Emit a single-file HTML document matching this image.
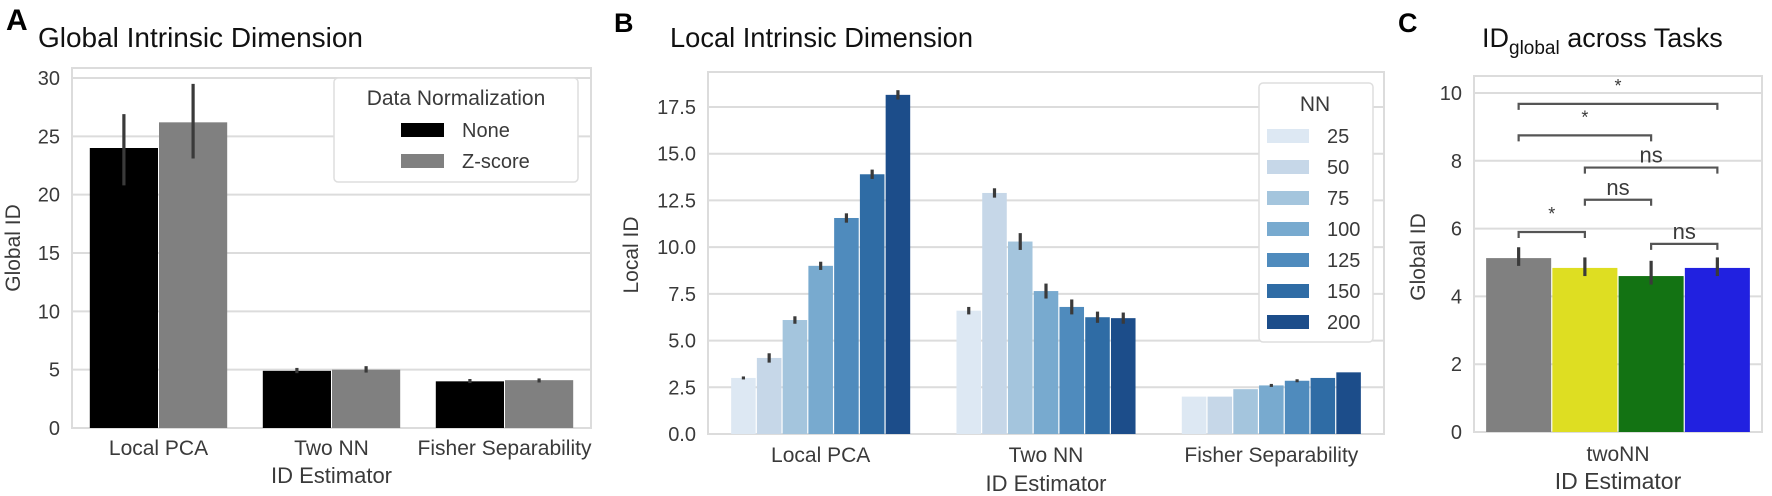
<!DOCTYPE html>
<html><head><meta charset="utf-8"><style>
html,body{margin:0;padding:0;background:#fff;}
svg{display:block;font-family:"Liberation Sans",sans-serif;}
</style></head><body>
<svg id="fig" width="1772" height="496" viewBox="0 0 1772 496">
<text x="6" y="30" font-size="30" font-weight="bold" fill="#000">A</text>
<text x="38" y="47" font-size="28" fill="#111" textLength="325" lengthAdjust="spacingAndGlyphs">Global Intrinsic Dimension</text>
<text x="614" y="32" font-size="27" font-weight="bold" fill="#000">B</text>
<text x="670" y="47" font-size="28" fill="#111" textLength="303" lengthAdjust="spacingAndGlyphs">Local Intrinsic Dimension</text>
<text x="1398" y="32" font-size="27" font-weight="bold" fill="#000">C</text>
<text x="1482" y="47" font-size="27" fill="#111">ID<tspan font-size="19" dy="7">global</tspan><tspan dy="-7"> across Tasks</tspan></text>
</svg>
<script>
// ---- Panel A data ----
const aCategories = ["Local PCA", "Two NN", "Fisher Separability"];
const aSeries = ["None", "Z-score"];
const aNone = [24.0, 4.9, 4.0];
const aZ = [26.2, 5.0, 4.1];
const aNoneLo = [20.8, 4.7, 3.85];
const aNoneHi = [26.9, 5.15, 4.2];
const aZLo = [23.1, 4.75, 3.9];
const aZHi = [29.5, 5.3, 4.25];
const aTicks = [0, 5, 10, 15, 20, 25, 30];
// ---- Panel B data ----
const bCategories = ["Local PCA", "Two NN", "Fisher Separability"];
const bNN = ["25", "50", "75", "100", "125", "150", "200"];
const bLocalPCA = [3.0, 4.07, 6.1, 9.0, 11.56, 13.9, 18.15];
const bTwoNN = [6.6, 12.9, 10.3, 7.65, 6.8, 6.25, 6.2];
const bFisher = [2.0, 2.0, 2.4, 2.6, 2.85, 3.0, 3.3];
const bErr = [[0.08, 0.25, 0.2, 0.22, 0.25, 0.25, 0.25],[0.2, 0.25, 0.45, 0.4, 0.4, 0.3, 0.3],[0, 0, 0, 0.08, 0.08, 0, 0]];
const bTicks = [0, 2.5, 5.0, 7.5, 10.0, 12.5, 15.0, 17.5];
// ---- Panel C data ----
const cTasks = ["Task 1", "Task 2", "Task 3", "Task 4"];
const cValues = [5.13, 4.84, 4.6, 4.84];
const cLo = [4.9, 4.6, 4.35, 4.6];
const cHi = [5.45, 5.15, 5.05, 5.15];
const cTicks = [0, 2, 4, 6, 8, 10];
const cBrFrom = [0, 0, 1, 1, 0, 2];
const cBrTo = [3, 2, 3, 2, 1, 3];
const cBrY = [9.68, 8.75, 7.8, 6.85, 5.9, 5.55];
const cBrLabel = ["*", "*", "ns", "ns", "*", "ns"];

const NS = "http://www.w3.org/2000/svg";
const svg = document.getElementById("fig");
function mk(tag, attrs, parent) {
  const e = document.createElementNS(NS, tag);
  for (const k in attrs) e.setAttribute(k, attrs[k]);
  (parent || svg).appendChild(e);
  return e;
}
function txt(e, s) { e.textContent = s; return e; }

function axes(p) {
  const g = mk("g", {});
  
  
  const f = mk("rect", {x: p.x0, y: p.top, width: p.x1 - p.x0, height: p.bottom - p.top, fill: "#fff", stroke: "#dcdcdc", "stroke-width": 2}, g);
  
  
  p.ticks.forEach((t, i) => {
    const y = p.y(t);
    const gl = mk("line", {x1: p.x0, x2: p.x1, y1: y, y2: y, stroke: "#dcdcdc", "stroke-width": 2}, g);
    
    
    const tl = txt(mk("text", {x: p.x0 - 12, y: y + 7, "font-size": 20, fill: "#3a3a3a", "text-anchor": "end"}, g), p.fmt(t));
    
    
  });
  const yl = txt(mk("text", {transform: `translate(${p.ylx},${p.yly}) rotate(-90)`, "font-size": 21, fill: "#3a3a3a", "text-anchor": "middle"}, g), p.ylabel);
  
  
  return g;
}
function errbar(x, lo, hi, y, name) {
  const l = mk("line", {x1: x, x2: x, y1: y(lo), y2: y(hi), stroke: "#3a3a3a", "stroke-width": 3.2});
  
  
}

// ================= Panel A =================
const A = {name: "panel-a", x0: 72, x1: 591, top: 68, bottom: 428, ticks: aTicks, fmt: t => String(t), ylabel: "Global ID", ylx: 20, yly: 248};
A.y = v => 428 - v * (350 / 30);
axes(A);
const aBand = (A.x1 - A.x0) / aCategories.length;
const aBarW = aBand * 0.4;
const aColors = ["#000000", "#808080"];
aCategories.forEach((c, i) => {
  const cx = A.x0 + aBand * (i + 0.5);
  [aNone, aZ].forEach((ser, s) => {
    const bx = cx - aBarW + s * aBarW;
    const r = mk("rect", {x: bx + 0.5, y: A.y(ser[i]), width: aBarW - 1, height: A.y(0) - A.y(ser[i]), fill: aColors[s]});
    
    
    const lo = s ? aZLo : aNoneLo, hi = s ? aZHi : aNoneHi;
    errbar(bx + aBarW / 2, lo[i], hi[i], A.y, 'error-bar-a');
  });
  const xl = txt(mk("text", {x: cx, y: 455, "font-size": 21, fill: "#3a3a3a", "text-anchor": "middle"}), c);
  
  
});
const axt = txt(mk("text", {x: A.x0 + aBand * 1.5, y: 483, "font-size": 22, fill: "#3a3a3a", "text-anchor": "middle"}), "ID Estimator");


const lgA = mk("g", {});


mk("rect", {x: 334, y: 78, width: 244, height: 104, rx: 4, fill: "#fff", stroke: "#dedede", "stroke-width": 1.5}, lgA);
const lgAT = txt(mk("text", {x: 456, y: 105, "font-size": 21, fill: "#3a3a3a", "text-anchor": "middle"}, lgA), "Data Normalization");


aSeries.forEach((s, i) => {
  const cy = 130 + i * 31;
  const p = mk("rect", {x: 401, y: cy - 7, width: 43, height: 14, fill: aColors[i]}, lgA);
  
  
  const t = txt(mk("text", {x: 462, y: cy + 7, "font-size": 20, fill: "#3a3a3a"}, lgA), s);
  
  
});

// ================= Panel B =================
const B = {name: "panel-b", x0: 708, x1: 1384, top: 72, bottom: 434, ticks: bTicks, fmt: t => t.toFixed(1), ylabel: "Local ID", ylx: 638, yly: 255};
B.y = v => 434 - v * (327 / 17.5);
axes(B);
const bColors = ["#dde8f3", "#c6d7e8", "#a4c5dd", "#78aacf", "#4f8bbd", "#2f6ca5", "#1c4d8a"];
const bBand = (B.x1 - B.x0) / bCategories.length;
const bBarW = bBand * 0.8 / bNN.length;
const bData = [bLocalPCA, bTwoNN, bFisher];
bCategories.forEach((c, i) => {
  const cx = B.x0 + bBand * (i + 0.5);
  const start = cx - bBand * 0.4;
  bNN.forEach((n, k) => {
    const v = bData[i][k];
    const bx = start + k * bBarW;
    const r = mk("rect", {x: bx + 0.6, y: B.y(v), width: bBarW - 1.2, height: B.y(0) - B.y(v), fill: bColors[k]});
    
    
    if (bErr[i][k] > 0) errbar(bx + bBarW / 2, v - bErr[i][k], v + bErr[i][k], B.y, 'error-bar-b');
  });
  const xl = txt(mk("text", {x: cx, y: 462, "font-size": 21, fill: "#3a3a3a", "text-anchor": "middle"}), c);
  
  
});
const bxt = txt(mk("text", {x: B.x0 + bBand * 1.5, y: 491, "font-size": 22, fill: "#3a3a3a", "text-anchor": "middle"}), "ID Estimator");


const lgB = mk("g", {});


mk("rect", {x: 1259, y: 83, width: 114, height: 259, rx: 4, fill: "#fff", stroke: "#dedede", "stroke-width": 1.5}, lgB);
const lgBT = txt(mk("text", {x: 1315, y: 111, "font-size": 21, fill: "#3a3a3a", "text-anchor": "middle"}, lgB), "NN");


bNN.forEach((n, k) => {
  const cy = 136 + k * 31;
  const p = mk("rect", {x: 1267, y: cy - 7, width: 42, height: 14, fill: bColors[k]}, lgB);
  
  
  const t = txt(mk("text", {x: 1327, y: cy + 7, "font-size": 20, fill: "#3a3a3a"}, lgB), n);
  
  
});

// ================= Panel C =================
const C = {name: "panel-c", x0: 1474, x1: 1762, top: 76, bottom: 432, ticks: cTicks, fmt: t => String(t), ylabel: "Global ID", ylx: 1425, yly: 257};
C.y = v => 432 - v * (339 / 10);
axes(C);
const cColors = ["#808080", "#dede22", "#137313", "#2121e0"];
const cW = (C.x1 - C.x0) * 0.92;
const cBarW = cW / cTasks.length;
const cStart = (C.x0 + C.x1) / 2 - cW / 2;
const cCenter = i => cStart + cBarW * (i + 0.5);
cTasks.forEach((t, i) => {
  const bx = cStart + i * cBarW;
  const r = mk("rect", {x: bx + 0.6, y: C.y(cValues[i]), width: cBarW - 1.2, height: C.y(0) - C.y(cValues[i]), fill: cColors[i]});
  
  
  errbar(cCenter(i), cLo[i], cHi[i], C.y, 'error-bar-c');
});
cBrY.forEach((v, j) => {
  const xa = cCenter(cBrFrom[j]), xb = cCenter(cBrTo[j]);
  const y = C.y(v);
  const br = mk("path", {d: `M${xa},${y + 6} L${xa},${y} L${xb},${y} L${xb},${y + 6}`, fill: "none", stroke: "#555", "stroke-width": 2.2});
  
  
  const isStar = cBrLabel[j] === "*";
  const lb = txt(mk("text", {x: (xa + xb) / 2, y: isStar ? y - 12 : y - 5, "font-size": isStar ? 18 : 22, fill: "#3a3a3a", "text-anchor": "middle"}), cBrLabel[j]);
  
  
});
const cxl = txt(mk("text", {x: (C.x0 + C.x1) / 2, y: 461, "font-size": 21, fill: "#3a3a3a", "text-anchor": "middle"}), "twoNN");


const cxt = txt(mk("text", {x: (C.x0 + C.x1) / 2, y: 489, "font-size": 23, fill: "#3a3a3a", "text-anchor": "middle"}), "ID Estimator");


</script>
</body></html>
